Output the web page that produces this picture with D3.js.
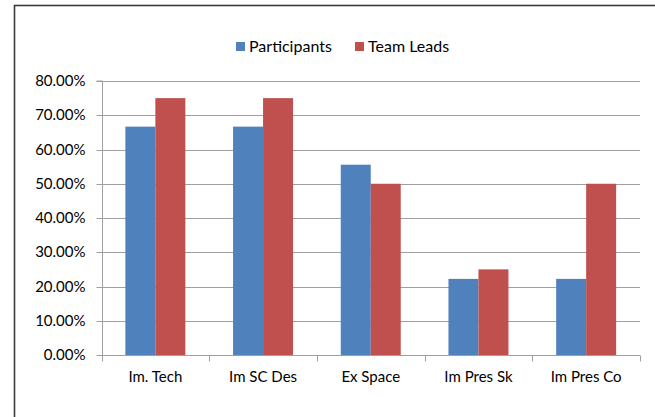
<!DOCTYPE html>
<html>
<head>
<meta charset="utf-8">
<script src="https://cdn.jsdelivr.net/npm/d3@7"></script>
<style>
  html, body { margin: 0; padding: 0; background: #fff; }
  svg { display: block; }
  text { font-family: Lato, "Open Sans", sans-serif; fill: #000; }
</style>
</head>
<body>
<svg id="chart" width="655" height="417"></svg>
<script>
const categories = ["Im. Tech", "Im SC Des", "Ex Space", "Im Pres Sk", "Im Pres Co"];
const seriesNames = ["Participants", "Team Leads"];
const participants = [0.6667, 0.6667, 0.5556, 0.2222, 0.2222];
const teamLeads = [0.75, 0.75, 0.50, 0.25, 0.50];
const yTicks = [0, 0.1, 0.2, 0.3, 0.4, 0.5, 0.6, 0.7, 0.8];
const colors = ["#4F81BD", "#C0504D"];

(function () {
const svg = d3.select("#chart");
const fontSize = 15;
const legendFont = 16;

// outer frame
svg.append("rect")
  .attr("x", 14.5).attr("y", 5.5)
  .attr("width", 700).attr("height", 500)
  .attr("fill", "none").attr("stroke", "#3a3a3a").attr("stroke-width", 1.6);

const pLeft = 101.5, pRight = 640, pTop = 81, pBottom = 355;

const x = d3.scaleBand().domain(categories).range([pLeft, pRight])
  .paddingInner(0.443).paddingOuter(0.2215);
const x1 = d3.scaleBand().domain(seriesNames).range([0, x.bandwidth()]);
const y = d3.scaleLinear().domain([0, 0.8]).range([pBottom, pTop]);

// gridlines
svg.append("g").selectAll("line").data(yTicks.filter(d => d > 0)).join("line")
  .attr("x1", pLeft).attr("x2", pRight)
  .attr("y1", d => Math.round(y(d)) + 0.5).attr("y2", d => Math.round(y(d)) + 0.5)
  .attr("stroke", "#a0a0a0").attr("stroke-width", 1);

// bars
const data = categories.map((c, i) => ({cat: c, vals: [participants[i], teamLeads[i]]}));
const groups = svg.append("g").selectAll("g").data(data).join("g")
  .attr("transform", d => `translate(${x(d.cat)},0)`);
groups.selectAll("rect").data(d => d.vals.map((v, j) => ({s: seriesNames[j], v, j}))).join("rect")
  .attr("x", d => x1(d.s))
  .attr("width", x1.bandwidth())
  .attr("y", d => y(d.v))
  .attr("height", d => y(0) - y(d.v))
  .attr("fill", d => colors[d.j]);

// y axis
const yAxis = d3.axisLeft(y).tickValues(yTicks)
  .tickFormat(d => (d * 100).toFixed(2) + "%")
  .tickSize(6).tickPadding(11);
const yg = svg.append("g").attr("transform", `translate(${Math.round(pLeft) + 0.5},0)`).call(yAxis);
yg.select(".domain").attr("stroke", "#a0a0a0").attr("d", `M-6,${pTop}H0V${pBottom}`);
yg.selectAll(".tick line").attr("stroke", "#a0a0a0");
yg.selectAll(".tick").attr("transform", d => `translate(0,${Math.round(y(d)) + 0.5})`);
yg.selectAll("text").attr("font-size", fontSize).attr("font-family", "Lato, sans-serif").attr("fill", "#000");

// x axis
const xAxis = d3.axisBottom(x).tickSize(0).tickPadding(16);
const xg = svg.append("g").attr("transform", `translate(0,${pBottom + 0.5})`).call(xAxis);
xg.select(".domain").attr("stroke", "#a0a0a0").attr("d", `M${pLeft},0H${pRight}`);
xg.selectAll("text").attr("font-size", fontSize).attr("font-family", "Lato, sans-serif").attr("fill", "#000");
// category boundary ticks
const bounds = d3.range(categories.length + 1).map(i => pLeft + i * x.step());
xg.selectAll(".bt").data(bounds).join("line").attr("class", "bt")
  .attr("x1", d => Math.round(d) + 0.5).attr("x2", d => Math.round(d) + 0.5)
  .attr("y1", 0).attr("y2", 6).attr("stroke", "#a0a0a0");

// legend
const legendX = [236, 355];
const lg = svg.append("g").selectAll("g").data(seriesNames).join("g")
  .attr("transform", (d, i) => `translate(${legendX[i]},42)`);
lg.append("rect").attr("width", 9).attr("height", 9).attr("fill", (d, i) => colors[i]);
lg.append("text").attr("x", 13).attr("y", 9.8).attr("font-size", legendFont).text(d => d);
})();
</script>
</body>
</html>
